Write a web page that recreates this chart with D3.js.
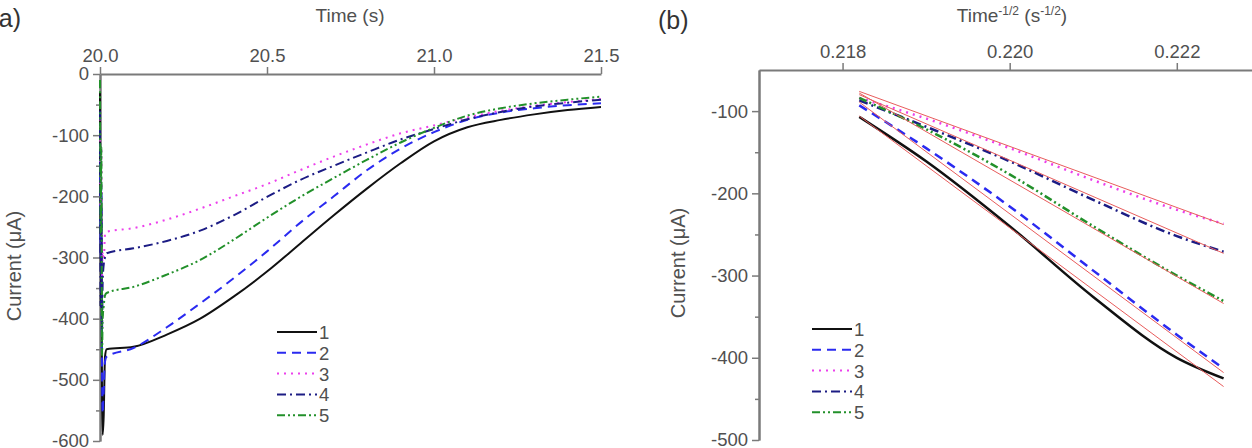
<!DOCTYPE html>
<html>
<head>
<meta charset="utf-8">
<script src="https://cdn.jsdelivr.net/npm/d3@7"></script>
<style>
  body { margin: 0; background: #fff; }
  svg { display: block; font-family: "Liberation Sans", Arial, sans-serif; }
</style>
</head>
<body>
<div id="chart"></div>
<script>
const w = 1252;
const h = 448;

// Panel (a): current vs time
const spikeT = [20.000, 20.002, 20.004, 20.006, 20.008, 20.011, 20.015];
const spike1 = [-30, -380, -200, -520, -590, -560, -462];
const spike2 = [-90, -300, -180, -480, -555, -520, -470];
const spike3 = [-50, -220, -120, -330, -290, -310, -262];
const spike4 = [-60, -380, -220, -420, -340, -312, -300];
const spike5 = [-10, -260, -120, -460, -400, -380, -362];

const timeA = [20.02, 20.1, 20.2, 20.3, 20.4, 20.5, 20.6, 20.7, 20.8, 20.9, 21.0, 21.1, 21.2, 21.3, 21.4, 21.5];
const cur1A = [-450, -446, -426, -400, -364, -323, -277, -231, -187, -146, -110, -87, -75, -66, -59, -54];
const cur2A = [-462, -448, -414, -375, -334, -290, -243, -200, -157, -122, -95, -75, -63, -56, -51, -48];
const cur3A = [-258, -252, -238, -220, -200, -180, -157, -135, -115, -97, -84, -71, -60, -52, -46, -41];
const cur4A = [-293, -285, -273, -256, -231, -201, -173, -150, -128, -107, -90, -74, -62, -53, -47, -42];
const cur5A = [-358, -348, -328, -304, -271, -235, -201, -170, -140, -112, -88, -68, -56, -48, -42, -37];

// Panel (b): current vs time^-1/2
const invT = [0.2182, 0.2190, 0.2200, 0.2210, 0.2220, 0.22256];
const cur1B = [-107, -161, -240, -326, -400, -425];
const cur2B = [-93, -145, -216, -294, -372, -413];
const cur3B = [-84, -109, -145, -184, -220, -237];
const cur4B = [-87, -119, -161, -208, -252, -271];
const cur5B = [-84, -122, -177, -240, -300, -331];

// linear fit lines (end points)
const fitX = [0.2182, 0.22256];
const fit1 = [-106, -435];
const fit2 = [-89, -418];
const fit3 = [-76, -238];
const fit4 = [-80, -273];
const fit5 = [-78, -334];

const names = ['1', '2', '3', '4', '5'];
const colors = ['#111111', '#2a2af0', '#ec40ec', '#1c1c84', '#22902a'];
const dashes = [null, '9,6', '2,5', '9,4,2,4', '8,3,2,3,2,3'];

const svg = d3.select('#chart')
  .append('svg')
  .attr('width', w)
  .attr('height', h);

const axisColor = '#7a7a7a';
const textColor = '#505050';

function styleAxis(g) {
  g.select('.domain').attr('stroke', axisColor).attr('stroke-width', 2);
  g.selectAll('.tick line').attr('stroke', axisColor).attr('stroke-width', 1.5);
  g.selectAll('.tick text').attr('fill', textColor).style('font-size', '18.5px');
}

function drawPanel(opt) {
  const x = d3.scaleLinear().domain(opt.xDomain).range(opt.xRange);
  const y = d3.scaleLinear().domain(opt.yDomain).range(opt.yRange);

  // minor y ticks
  svg.append('g')
    .attr('transform', `translate(${opt.xRange[0]},0)`)
    .call(d3.axisLeft(y).tickValues(opt.yMinor).tickSize(4).tickFormat('').tickSizeOuter(0))
    .call(styleAxis);

  svg.append('g')
    .attr('transform', `translate(${opt.xRange[0]},0)`)
    .call(d3.axisLeft(y).tickValues(opt.yMajor).tickSize(7).tickPadding(4).tickSizeOuter(0)
      .tickFormat(d => String(d)))
    .call(styleAxis);

  svg.append('g')
    .attr('transform', `translate(0,${opt.yRange[0]})`)
    .call(d3.axisTop(x).tickValues(opt.xMajor).tickSize(7).tickPadding(5).tickSizeOuter(0)
      .tickFormat(d3.format(opt.xFormat)))
    .call(styleAxis);

  const line = d3.line().curve(d3.curveMonotoneX).x(d => x(d[0])).y(d => y(d[1]));

  opt.series.forEach((s, i) => {
    svg.append('path')
      .datum(s)
      .attr('fill', 'none')
      .attr('stroke', colors[i])
      .attr('stroke-width', opt.lineW)
      .attr('stroke-dasharray', dashes[i])
      .attr('d', line);
  });

  if (opt.fits) {
    opt.fits.forEach(f => {
      svg.append('path')
        .datum(f)
        .attr('fill', 'none')
        .attr('stroke', '#e85c5c')
        .attr('stroke-width', 1)
        .attr('d', line);
    });
  }

  // y label
  svg.append('text')
    .attr('transform', `translate(${opt.yLabelX},${opt.yLabelY}) rotate(-90)`)
    .attr('text-anchor', 'middle')
    .attr('fill', textColor)
    .style('font-size', '20px')
    .text('Current (\u03bcA)');

  // legend
  const leg = svg.append('g');
  names.forEach((n, i) => {
    const ly = opt.legY + i * 20.8;
    leg.append('line')
      .attr('x1', opt.legX).attr('x2', opt.legX + 40)
      .attr('y1', ly).attr('y2', ly)
      .attr('stroke', colors[i])
      .attr('stroke-width', 2)
      .attr('stroke-dasharray', dashes[i]);
    leg.append('text')
      .attr('x', opt.legX + 42)
      .attr('y', ly + 7)
      .attr('fill', textColor)
      .style('font-size', '18.5px')
      .text(n);
  });
}

const pairs = (xs, ys) => xs.map((v, i) => [v, ys[i]]);

drawPanel({
  xDomain: [20, 21.5], xRange: [100, 601],
  yDomain: [0, -600], yRange: [74, 441],
  xMajor: [20, 20.5, 21, 21.5], xFormat: '.1f',
  yMajor: d3.range(0, -601, -100), yMinor: d3.range(-50, -600, -100),
  series: [
    pairs(spikeT.concat(timeA), spike1.concat(cur1A)),
    pairs(spikeT.concat(timeA), spike2.concat(cur2A)),
    pairs(spikeT.concat(timeA), spike3.concat(cur3A)),
    pairs(spikeT.concat(timeA), spike4.concat(cur4A)),
    pairs(spikeT.concat(timeA), spike5.concat(cur5A))
  ],
  lineW: 2,
  yLabelX: 21, yLabelY: 266,
  legX: 277, legY: 332
});

drawPanel({
  xDomain: [0.217, 0.2229], xRange: [759, 1252],
  yDomain: [-50, -500], yRange: [70, 440],
  xMajor: [0.218, 0.220, 0.222], xFormat: '.3f',
  yMajor: d3.range(-100, -501, -100), yMinor: d3.range(-150, -500, -100),
  series: [
    pairs(invT, cur1B), pairs(invT, cur2B), pairs(invT, cur3B), pairs(invT, cur4B), pairs(invT, cur5B)
  ],
  fits: [pairs(fitX, fit1), pairs(fitX, fit2), pairs(fitX, fit3), pairs(fitX, fit4), pairs(fitX, fit5)],
  lineW: 2.5,
  yLabelX: 685, yLabelY: 263,
  legX: 812, legY: 329
});

// axis titles
svg.append('text')
  .attr('x', 350).attr('y', 22)
  .attr('text-anchor', 'middle')
  .attr('fill', textColor)
  .style('font-size', '19px')
  .text('Time (s)');

const tb = svg.append('text')
  .attr('x', 1012).attr('y', 22)
  .attr('text-anchor', 'middle')
  .attr('fill', textColor)
  .style('font-size', '19px');
tb.append('tspan').text('Time');
tb.append('tspan').attr('dy', -7).style('font-size', '12px').text('-1/2');
tb.append('tspan').attr('dy', 7).text(' (s');
tb.append('tspan').attr('dy', -7).style('font-size', '12px').text('-1/2');
tb.append('tspan').attr('dy', 7).text(')');

// panel letters
svg.append('text')
  .attr('x', 21).attr('y', 27)
  .attr('text-anchor', 'end')
  .attr('fill', '#333')
  .style('font-size', '25px')
  .text('(a)');

svg.append('text')
  .attr('x', 658).attr('y', 29)
  .attr('fill', '#333')
  .style('font-size', '25px')
  .text('(b)');
</script>
</body>
</html>
